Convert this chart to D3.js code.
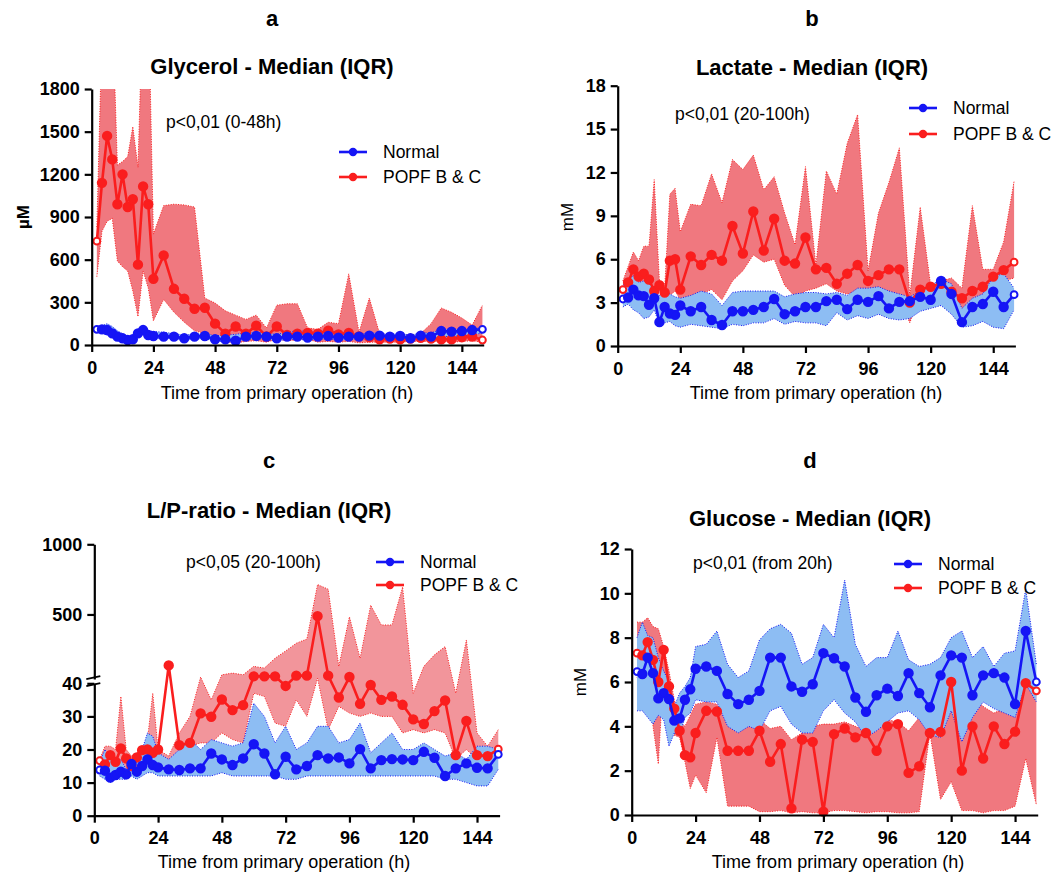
<!DOCTYPE html>
<html>
<head>
<meta charset="utf-8">
<title>Microdialysis - Median (IQR)</title>
<script src="https://cdn.jsdelivr.net/npm/d3@7"></script>
<style>
  body { margin: 0; background: #fff; }
  svg text { font-family: "Liberation Sans", Arial, sans-serif; fill: #000; }
  .axis path, .axis line { stroke: #000; stroke-width: 2.2px; }
  .axis text { font-size: 18px; font-weight: bold; font-family: "Liberation Sans", Arial, sans-serif; }
  .letter, .title { font-weight: bold; font-size: 22px; text-anchor: middle; }
  .xlab { font-size: 18px; text-anchor: middle; }
  .ptext, .legtext { font-size: 17.5px; }
</style>
</head>
<body>
<svg id="chart" width="1057" height="877"></svg>
<script>
// sampling times (h)
var hours = [2,4,6,8,10,12,14,16,18,20,22,24,28,32,36,40,44,48,52,56,60,64,68,72,76,80,84,88,92,96,100,104,108,112,116,120,124,128,132,136,140,144,148,152];
var xTicks = [0,24,48,72,96,120,144];

// a - glycerol (uM)
var glyNormMed = [110,110,105,82,59,47,35,40,82,105,70,63,59,59,47,59,63,40,40,30,59,63,59,47,59,59,52,59,63,52,59,59,66,66,59,63,47,66,59,98,94,98,105,110];
var glyNormQ1  = [90,85,70,55,40,30,25,25,60,80,50,45,45,45,35,40,45,25,25,20,40,45,40,30,40,40,35,40,45,35,40,40,45,45,40,45,30,45,40,60,60,65,70,85];
var glyNormQ3  = [125,135,150,130,100,80,60,60,100,120,100,95,90,80,70,75,80,65,70,75,85,90,80,75,90,100,95,85,110,85,80,75,85,80,75,80,70,85,85,110,110,110,115,120];
var glyPopfMed = [730,1140,1470,1305,990,1200,970,1025,565,1115,990,465,630,395,325,255,262,150,80,130,80,135,60,130,70,80,85,80,100,75,85,60,55,40,45,40,45,50,45,40,40,55,60,35];
var glyPopfQ1  = [480,800,870,890,590,550,520,380,200,520,400,170,320,230,160,100,80,40,20,15,25,30,20,40,30,35,40,20,25,20,25,15,20,20,20,20,25,25,25,25,20,25,30,20];
var glyPopfQ3  = [830,2200,2400,2400,1265,1290,1325,1535,1250,2500,2500,780,980,990,985,970,330,295,240,210,180,210,120,280,290,290,120,110,160,150,500,90,330,80,70,60,60,80,150,260,230,190,140,280];
var glyTicks = [0,300,600,900,1200,1500,1800];

// b - lactate (mM)
var latNormMed = [3.25,3.35,3.9,3.5,3.45,2.85,3.3,1.65,2.7,2.25,2.15,2.8,2.4,2.7,1.8,1.45,2.4,2.4,2.5,2.7,3.25,2.2,2.4,2.7,2.7,3.1,3.2,2.55,3.2,3.05,3.45,2.6,3.05,3.1,3.4,3.2,4.5,3.6,1.65,2.7,2.9,3.75,2.7,3.55];
var latNormQ1  = [2.7,2.9,2.5,2.3,1.9,2.0,2.5,1.5,1.6,1.7,1.4,1.3,1.5,1.4,1.3,1.2,1.5,1.4,1.6,1.6,1.9,1.5,1.7,1.6,1.6,1.4,2.3,1.8,2.1,1.9,2.2,1.9,1.8,1.9,2.4,2.6,2.8,2.2,1.3,1.4,1.7,1.3,1.2,2.5];
var latNormQ3  = [4.2,4.5,4.9,4.4,4.5,4.3,4.0,3.5,3.8,3.6,3.4,3.3,3.5,3.8,3.6,2.8,3.7,3.8,3.8,3.8,3.8,3.4,3.6,3.7,3.7,3.6,3.7,3.5,4.0,4.0,4.1,3.8,3.6,3.4,3.8,4.2,4.6,4.3,2.6,3.3,3.6,4.8,5.0,4.0];
var latPopfMed = [3.9,4.4,5.3,4.8,5.0,4.6,3.8,4.2,3.7,5.9,6.0,3.9,6.2,5.6,6.3,5.9,8.3,6.4,9.3,6.6,8.8,5.9,5.7,7.5,5.3,5.4,4.3,5.0,5.6,4.5,4.9,5.3,5.3,3.0,3.9,4.1,4.3,3.75,3.3,3.8,4.1,4.8,5.25,5.8];
var latPopfQ1  = [3.0,3.5,4.6,4.2,4.0,4.0,3.6,3.8,3.2,3.5,3.8,3.2,3.4,3.6,3.9,3.2,4.5,5.2,6.3,5.8,6.0,4.2,3.4,3.8,4.0,4.3,3.8,3.6,3.8,3.8,3.6,3.8,3.5,1.6,3.6,3.5,4.0,3.4,2.0,2.6,3.2,4.0,4.5,4.7];
var latPopfQ3  = [4.5,5.5,6.5,5.9,6.9,6.9,11.5,4.5,4.0,10.5,10.9,7.9,9.8,9.7,11.9,9.9,12.9,12.2,13.2,10.8,11.7,9.2,7.0,12.4,5.6,12.1,10.5,14.0,16.0,5.2,9.2,11.3,13.7,3.5,9.6,4.2,4.5,4.7,4.0,9.7,5.3,5.3,7.2,11.4];
var latTicks = [0,3,6,9,12,15,18];

// c - lactate/pyruvate ratio (broken axis)
var lpNormMed = [13.8,13.6,11.5,12.3,13.3,12.5,15.6,13.3,15.0,17.0,15.3,14.6,14.0,13.8,14.3,14.3,18.8,17.0,15.3,17.3,21.6,18.8,12.5,17.8,14.0,15.0,18.3,17.3,17.6,15.8,20.1,14.3,16.8,17.1,17.0,16.8,19.3,17.5,12.0,14.3,15.8,14.5,14.3,18.5];
var lpNormQ1  = [12,11,10,11,11,11,12,11,12,13,13,12,12,12,12,12,12,13,12,12,12,12,12,11,11,12,12,12,12,12,12,12,12,12,12,12,12,12,11,11,10,9,9,14];
var lpNormQ3  = [16,20,17,15,17,14,17,16,20,25,24,19,17,20,23,20,23,22,21,22,34,30,22,27,20,22,27,27,22,23,28,19,22,25,20,20,22,20,18,19,17,21,21,20];
var lpPopfMed = [16.6,15.5,18.3,16.3,20.3,17.3,15.0,17.6,19.8,20,19,20,137,21.3,22,30.9,29.9,35.1,31.9,33.4,59,59,59,39.2,64,64,488,64,35.7,54,33.8,39.5,35,36,33.5,29.1,27.7,31.6,34.8,18.3,28.6,18.3,18,20.1];
var lpPopfQ1  = [15,15,16,15,15,14,14,16,17,18,19,17,16,19,21,22,22,25,23,22,37,36,28,27,35,30,45,26,33,31,30,31,30,30,25,26,25,26,25,17,20,17,17,19];
var lpPopfQ3  = [17,21,21,20,36,20,18,19,20,23,37,20,18,25,30,54,35,70,82,70,130,118,188,240,295,325,713,680,130,483,188,566,425,425,696,37,130,212,271,37,318,25,21,26];
var lpTicksLow = [0,10,20,30,40];
var lpTicksHigh = [500,1000];

// d - glucose (mM)
var gluNormMed = [6.47,6.36,7.1,6.4,5.26,5.5,5.23,4.26,4.36,5.2,5.67,6.6,6.7,6.5,5.46,5.0,5.2,5.6,7.1,7.1,5.8,5.56,5.9,7.3,7.07,6.7,5.3,4.66,5.4,5.7,5.37,6.4,5.5,4.86,6.3,7.2,7.1,5.4,6.3,6.4,6.2,5.0,8.3,6.0];
var gluNormQ1  = [4.7,4.7,4.4,4.1,4.5,4.3,3.1,3.7,3.6,4.4,4.6,5.2,5.1,5.1,4.0,3.7,4.0,3.8,4.7,4.9,4.1,3.7,3.7,4.7,5.2,4.6,4.2,3.5,3.8,4.2,4.6,4.7,4.3,3.6,3.5,4.7,3.3,4.4,5.1,4.8,4.6,4.4,5.9,5.1];
var gluNormQ3  = [8.0,8.7,8.1,8.0,7.1,6.5,6.0,4.9,5.5,5.8,6.2,7.6,7.7,8.3,6.8,6.2,6.5,7.9,8.4,8.6,8.2,6.8,7.1,8.6,8.0,10.6,7.7,6.7,7.1,7.1,8.3,7.0,6.7,6.8,7.1,8.0,8.3,7.1,7.6,6.7,7.3,7.4,10.2,6.8];
var gluPopfMed = [7.3,7.2,7.8,7.0,6.0,7.45,5.8,4.8,3.8,2.7,2.6,3.7,4.7,4.67,2.9,2.9,2.9,3.8,2.4,3.2,0.3,3.4,3.3,0.15,3.65,3.9,3.5,3.7,2.9,4.0,4.1,1.9,2.2,3.7,3.75,6.0,2.0,4.0,2.55,4.0,3.2,3.76,5.95,5.6];
var gluPopfQ1  = [6.2,7.0,7.5,4.0,2.3,6.5,4.5,3.6,3.5,2.4,1.2,1.8,1.0,3.5,0.4,0.4,0.4,0.15,0.15,0.2,0.1,0.15,0.1,0.1,0.2,0.2,0.15,0.1,0.15,0.15,0.1,0.1,0.15,3.7,0.7,1.5,0.2,0.2,0.1,0.2,0.2,0.4,2.55,0.45];
var gluPopfQ3  = [8.7,8.7,8.9,8.5,8.4,7.6,6.5,5.2,4.2,4.0,4.5,5.0,5.1,5.0,4.3,4.0,4.0,4.3,3.9,4.0,3.4,3.7,4.0,4.1,4.1,4.2,4.0,3.8,4.0,4.3,4.2,3.8,4.4,3.9,4.6,6.1,4.6,5.4,4.9,4.6,4.8,4.5,6.1,5.7];
var gluTicks = [0,2,4,6,8,10,12];

var blue = "#1515f5", red = "#fa1e1e";
var blueFill = "#8dbdf3", redFill = "#f0787f";

var svg = d3.select("#chart");

function rows(med, q1, q3) {
  return hours.map(function(h, i) { return { h: h, med: med[i], q1: q1[i], q3: q3[i] }; });
}

function drawPanel(p) {
  var g = svg.append("g").attr("transform", "translate(" + p.left + "," + p.top + ")");
  var x = d3.scaleLinear().domain([0, 152.5]).range([0, p.width]);
  var y = p.y;

  var clipId = "clip" + p.letter;
  g.append("clipPath").attr("id", clipId)
    .append("rect").attr("x", -10).attr("y", 0).attr("width", p.width + 20).attr("height", p.height + 10);

  var plot = g.append("g").attr("clip-path", "url(#" + clipId + ")");

  var series = [
    { data: rows(p.popf[0], p.popf[1], p.popf[2]), line: red, fill: p.redFill || redFill },
    { data: rows(p.norm[0], p.norm[1], p.norm[2]), line: blue, fill: blueFill }
  ];

  var area = d3.area().x(function(d) { return x(d.h); })
    .y0(function(d) { return y(d.q1); }).y1(function(d) { return y(d.q3); });
  var lo = d3.line().x(function(d) { return x(d.h); }).y(function(d) { return y(d.q1); });
  var hi = d3.line().x(function(d) { return x(d.h); }).y(function(d) { return y(d.q3); });
  var mid = d3.line().x(function(d) { return x(d.h); }).y(function(d) { return y(d.med); });

  series.forEach(function(s) {
    plot.append("path").datum(s.data).attr("d", area).attr("fill", s.fill);
    [lo, hi].forEach(function(l) {
      plot.append("path").datum(s.data).attr("d", l).attr("fill", "none")
        .attr("stroke", s.line).attr("stroke-width", 1).attr("stroke-dasharray", "1,1.5");
    });
  });

  series.forEach(function(s) {
    plot.append("path").datum(s.data).attr("d", mid).attr("fill", "none")
      .attr("stroke", s.line).attr("stroke-width", 2.6).attr("stroke-linejoin", "round");
    var n = s.data.length;
    plot.selectAll(null).data(s.data).enter().append("circle")
      .attr("cx", function(d) { return x(d.h); })
      .attr("cy", function(d) { return y(d.med); })
      .attr("r", function(d, i) { return (i === 0 || i === n - 1) ? 3.4 : 4.2; })
      .attr("fill", function(d, i) { return (i === 0 || i === n - 1) ? "#fff" : s.line; })
      .attr("stroke", s.line).attr("stroke-width", 2);
  });

  // axes
  g.append("g").attr("class", "axis").attr("transform", "translate(0," + p.height + ")")
    .call(d3.axisBottom(x).tickValues(xTicks).tickSize(7).tickSizeOuter(0).tickPadding(9));
  p.yAxes.forEach(function(ax) {
    g.append("g").attr("class", "axis")
      .call(d3.axisLeft(ax.scale).tickValues(ax.ticks).tickFormat(d3.format("d"))
        .tickSize(7).tickSizeOuter(0).tickPadding(5));
  });
  if (p.breakY) {
    [p.breakY - 3.5, p.breakY + 3.5].forEach(function(by) {
      g.append("line").attr("x1", -8).attr("x2", 6).attr("y1", by + 1.5).attr("y2", by - 1.5)
        .attr("stroke", "#000").attr("stroke-width", 1.8);
    });
  }

  // texts
  svg.append("text").attr("class", "letter").attr("x", p.cx).attr("y", p.letterY).text(p.letter);
  svg.append("text").attr("class", "title").attr("x", p.cx).attr("y", p.titleY).text(p.title);
  svg.append("text").attr("class", "xlab").attr("x", p.xlab[0]).attr("y", p.xlab[1])
    .text("Time from primary operation (h)");
  if (p.ylab) {
    svg.append("text").attr("transform", "translate(" + p.ylab[0] + "," + p.ylab[1] + ") rotate(-90)")
      .attr("text-anchor", "middle").attr("font-size", "17px")
      .attr("font-weight", p.ylabBold ? "bold" : "normal").text(p.ylabText);
  }
  svg.append("text").attr("class", "ptext").attr("x", p.ptext[0]).attr("y", p.ptext[1]).text(p.pLabel);

  var legend = [["Normal", blue], ["POPF B & C", red]];
  legend.forEach(function(l, i) {
    var ly = p.leg[1] + i * p.legStep;
    svg.append("line").attr("x1", p.leg[0]).attr("x2", p.leg[0] + 28).attr("y1", ly).attr("y2", ly)
      .attr("stroke", l[1]).attr("stroke-width", 2.6);
    svg.append("circle").attr("cx", p.leg[0] + 14).attr("cy", ly).attr("r", 4.2).attr("fill", l[1]);
    svg.append("text").attr("class", "legtext").attr("x", p.leg[0] + 44).attr("y", ly + 6).text(l[0]);
  });
}

// panel a
var hA = 256;
var yA = d3.scaleLinear().domain([0, 1800]).range([hA, 0]);
drawPanel({
  letter: "a", title: "Glycerol - Median (IQR)", cx: 272, letterY: 26, titleY: 74,
  left: 91.7, top: 89, width: 392, height: hA, y: yA,
  yAxes: [{ scale: yA, ticks: glyTicks }],
  norm: [glyNormMed, glyNormQ1, glyNormQ3], popf: [glyPopfMed, glyPopfQ1, glyPopfQ3],
  xlab: [287, 399], ylab: [29, 217], ylabText: "\u00b5M", ylabBold: true,
  ptext: [166, 128], pLabel: "p<0,01 (0-48h)", leg: [339, 152], legStep: 25
});

// panel b
var hB = 260.3;
var yB = d3.scaleLinear().domain([0, 18]).range([hB, 0]);
drawPanel({
  letter: "b", title: "Lactate - Median (IQR)", cx: 812, letterY: 26, titleY: 75,
  left: 617.7, top: 85.7, width: 397.7, height: hB, y: yB,
  yAxes: [{ scale: yB, ticks: latTicks }],
  norm: [latNormMed, latNormQ1, latNormQ3], popf: [latPopfMed, latPopfQ1, latPopfQ3],
  xlab: [816, 399], ylab: [573, 217], ylabText: "mM",
  ptext: [675, 120], pLabel: "p<0,01 (20-100h)", leg: [909, 108], legStep: 26
});

// panel c (broken axis: 0-40 and 40-1000)
var yCLow = d3.scaleLinear().domain([0, 40]).range([271.4, 139]);
var yCHigh = d3.scaleLinear().domain([40, 1000]).range([134.7, 0]);
function yC(v) { return v <= 40 ? yCLow(v) : yCHigh(v); }
drawPanel({
  letter: "c", title: "L/P-ratio - Median (IQR)", cx: 269, letterY: 468, titleY: 518,
  left: 94.3, top: 544.3, width: 405.3, height: 271.4, y: yC,
  yAxes: [{ scale: yCLow, ticks: lpTicksLow }, { scale: yCHigh, ticks: lpTicksHigh }], breakY: 136.8,
  redFill: "#f2959b",
  norm: [lpNormMed, lpNormQ1, lpNormQ3], popf: [lpPopfMed, lpPopfQ1, lpPopfQ3],
  xlab: [284, 868],
  ptext: [186, 568], pLabel: "p<0,05 (20-100h)", leg: [376, 562], legStep: 23
});

// panel d
var hD = 266;
var yD = d3.scaleLinear().domain([0, 12]).range([hD, 0]);
drawPanel({
  letter: "d", title: "Glucose - Median (IQR)", cx: 810, letterY: 468, titleY: 526,
  left: 631.7, top: 549, width: 406, height: hD, y: yD,
  yAxes: [{ scale: yD, ticks: gluTicks }],
  norm: [gluNormMed, gluNormQ1, gluNormQ3], popf: [gluPopfMed, gluPopfQ1, gluPopfQ3],
  xlab: [838, 868], ylab: [586, 682], ylabText: "mM",
  ptext: [693, 569], pLabel: "p<0,01 (from 20h)", leg: [894, 564], legStep: 24
});
</script>
</body>
</html>
